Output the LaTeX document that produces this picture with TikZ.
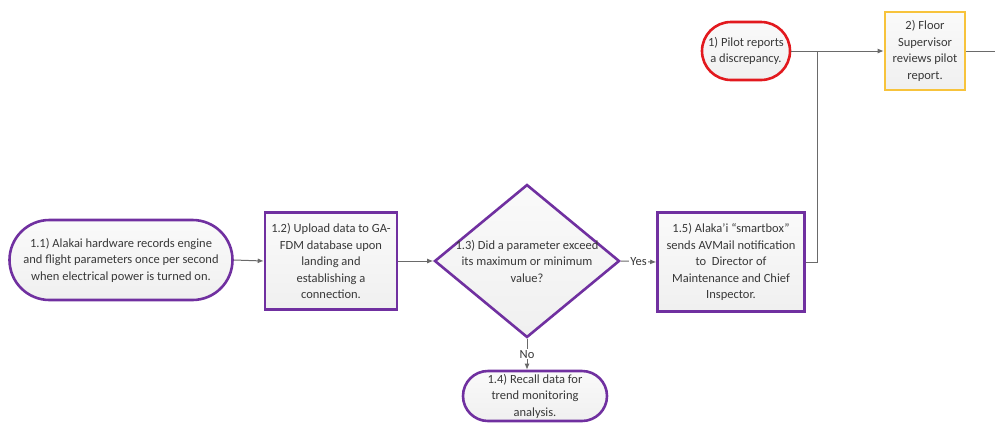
\documentclass[tikz,border=0pt]{standalone}
\usepackage{fontspec}
\setmainfont{Carlito}
\usetikzlibrary{shapes.geometric,arrows.meta}
\definecolor{purp}{HTML}{7030A0}
\definecolor{redline}{HTML}{E2191E}
\definecolor{gold}{HTML}{F7C33C}
\definecolor{txtgray}{HTML}{383838}
\definecolor{linegray}{HTML}{6A6A6A}
\begin{document}
\begin{tikzpicture}[x=1pt,y=-1pt,
  every node/.style={font=\fontsize{12.5}{16.5}\selectfont, text=txtgray},
  boxbase/.style={draw, line width=2.6pt, top color=gray!4, bottom color=gray!12, align=center, inner sep=0pt},
  terminal/.style={boxbase, rectangle, draw=purp},
  process/.style={boxbase, rectangle, draw=purp},
  decision/.style={boxbase, diamond, draw=purp, aspect=1.2},
  conn/.style={draw=linegray, line width=1pt},
  arr/.style={conn, -{Latex[length=6pt,width=5pt]}},
  lbl/.style={fill=white, inner sep=1pt}
]
\useasboundingbox (0,0) rectangle (995,424);

% top row: pilot report and supervisor review
\node[terminal, draw=redline, rounded corners=29pt, minimum width=88pt, minimum height=58pt] (p1) at (746,51)
  {1) Pilot reports\\a discrepancy.};
\node[process, draw=gold, minimum width=80pt, minimum height=78pt] (p2) at (925,51)
  {2) Floor\\Supervisor\\reviews pilot\\report.};

% data monitoring chain
\node[terminal, rounded corners=40pt, minimum width=223pt, minimum height=80pt] (a1) at (121,260)
  {1.1) Alakai hardware records engine\\and flight parameters once per second\\when electrical power is turned on.};
\node[process, minimum width=132pt, minimum height=97pt] (a2) at (331,261)
  {1.2) Upload data to GA-\\FDM database upon\\landing and\\establishing a\\connection.};
\node[decision, minimum width=185pt, minimum height=153pt] (a3) at (527,261) {};
\node[align=center] (a3t) at (a3) {1.3) Did a parameter exceed\\its maximum or minimum\\value?};
\node[process, minimum width=147pt, minimum height=99pt] (a5) at (731,262)
  {1.5) Alaka'i ``smartbox''\\sends AVMail notification\\to~ Director of\\Maintenance and Chief\\Inspector.};
\node[terminal, rounded corners=25pt, minimum width=144pt, minimum height=50pt] (a4) at (535,396)
  {1.4) Recall data for\\trend monitoring\\analysis.};

\coordinate (j) at (817,51);
\coordinate (out) at (995,51);

% connectors
\draw[arr] (a1.east) -- (a2.west);
\draw[arr] (a2.east) -- (a3.west);
\draw[arr] (a3.east) -- node[lbl] {Yes} (a5.west);
\draw[arr] (a3.south) -- node[lbl] {No} (a3.south |- a4.north);
\draw[conn] (a5.east) -| (j);
\draw[arr] (p1.east) -- (p2.west);
\draw[conn] (p2.east) -- (out);
\end{tikzpicture}
\end{document}
